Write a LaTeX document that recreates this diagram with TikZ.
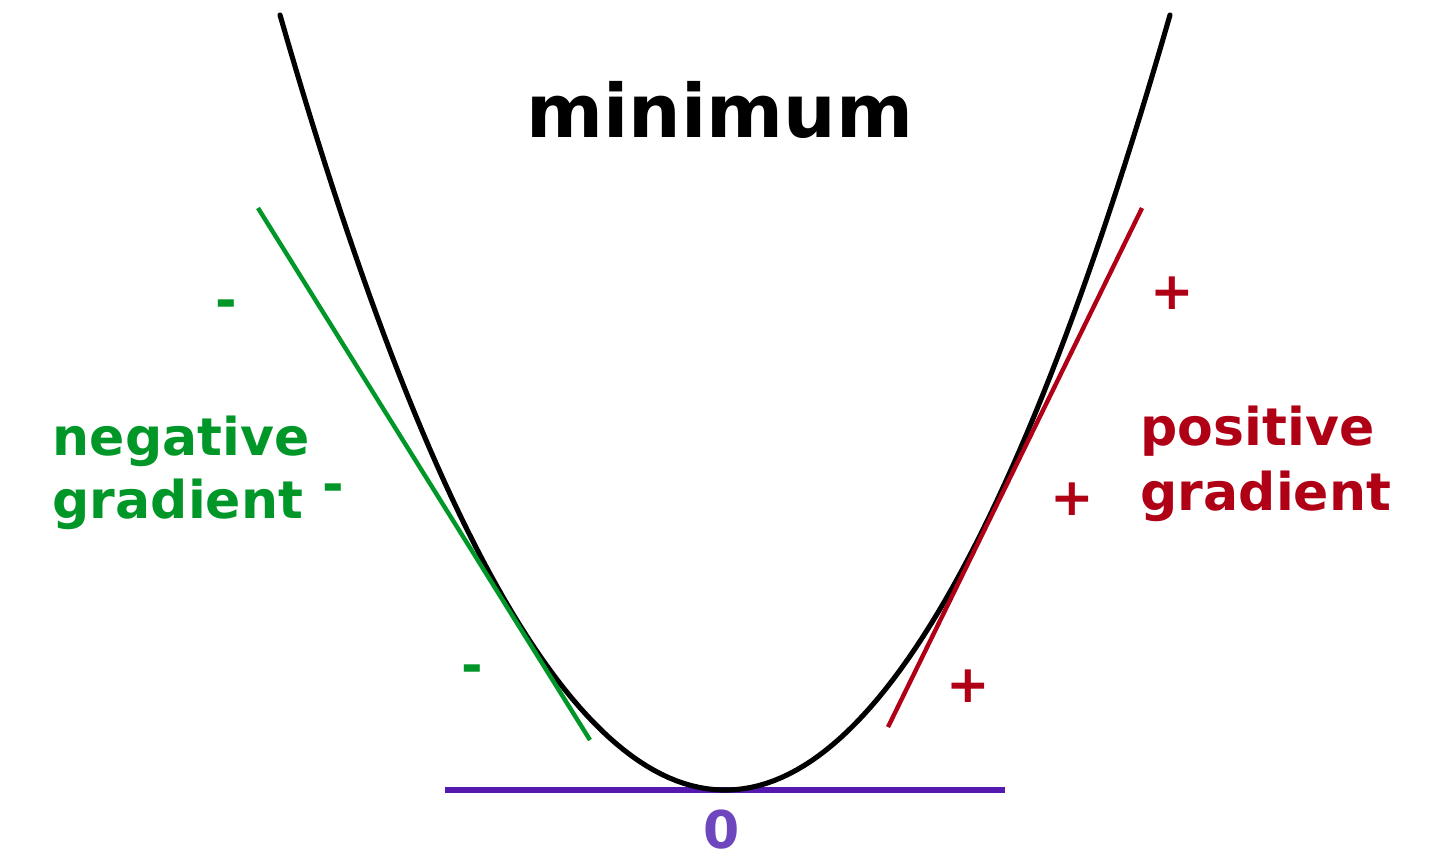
\documentclass[tikz,border=0pt]{standalone}
\usepackage{fontspec}
\setmainfont{DejaVu Sans}
\usetikzlibrary{positioning}

\definecolor{neggreen}{RGB}{0,150,40}
\definecolor{posred}{RGB}{175,0,22}
\definecolor{zeroline}{RGB}{85,25,175}
\definecolor{zerotext}{RGB}{110,70,190}

\begin{document}
\begin{tikzpicture}[
  x=0.01cm, y=-0.01cm,
  curve/.style={draw, black, line width=1.45pt, line cap=round},
  tangent/.style={draw, line width=1.25pt},
  lbl/.style={font=\fontsize{14.8}{17}\selectfont\bfseries,
              inner sep=0pt, anchor=base west},
  sign/.style={font=\fontsize{14.8}{17}\selectfont\bfseries,
               inner sep=0pt, anchor=base}
]
  \useasboundingbox (0,0) rectangle (1440,856);

  % horizontal line at the minimum
  \coordinate (zl) at (445,790);
  \coordinate (zr) at (1005,790);
  \draw[zeroline, line width=1.8pt] (zl) -- (zr);

  % the parabola
  \draw[curve] plot[domain=280:1170, samples=120]
    (\x, {790-39.14*((\x-725)/100)^2});

  % tangents
  \coordinate (gtop) at (258,208);
  \coordinate (gbot) at (590,740);
  \coordinate (rtop) at (1142,208);
  \coordinate (rbot) at (888,727);
  \draw[tangent, neggreen] (gtop) -- (gbot);
  \draw[tangent, posred] (rtop) -- (rbot);

  \node[lbl, anchor=base, font=\fontsize{21}{25}\selectfont\bfseries]
    (title) at (720,137) {minimum};

  \node[lbl, neggreen] (neg1) at (52,455) {negative};
  \node[lbl, neggreen] (neg2) at (52,518) {gradient};
  \node[lbl, posred] (pos1) at (1140,445) {positive};
  \node[lbl, posred] (pos2) at (1140,510) {gradient};

  \node[sign, neggreen] (m1) at (226,318) {-};
  \node[sign, neggreen] (m2) at (333,502) {-};
  \node[sign, neggreen] (m3) at (472,683) {-};
  \node[sign, posred] (p1) at (1172,309) {+};
  \node[sign, posred] (p2) at (1072,515) {+};
  \node[sign, posred] (p3) at (968,702) {+};

  \node[sign, zerotext] (zero) at (722,848) {0};
\end{tikzpicture}
\end{document}
